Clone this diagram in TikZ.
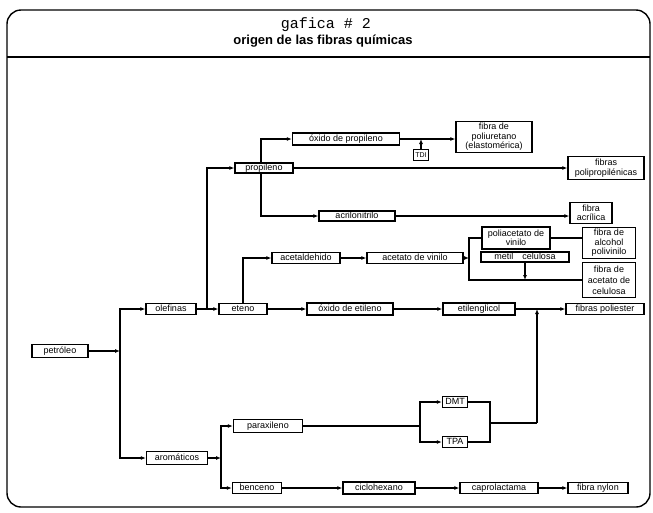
\documentclass[tikz,border=0pt]{standalone}
\usepackage{fontspec}
\setmainfont{Liberation Sans}
\newfontfamily\twfont{Liberation Mono}
\usetikzlibrary{arrows.meta}
\tikzset{
  box/.style={draw, line width=1.3pt, fill=white, inner sep=0pt, align=center,
    font=\fontsize{9}{9.5}\selectfont},
  onebox/.style={box, text height=6.2pt, text depth=0.7pt},
  conn/.style={line width=1.1pt},
  arr/.style={conn, -{Latex[length=5pt,width=4pt]}},
  frame/.style={line width=1.4pt}
}
\begin{document}
\begin{tikzpicture}[x=1pt,y=-1pt]
\useasboundingbox (0,0) rectangle (653,512);
% frame
\draw[frame, rounded corners=14pt] (7,10) rectangle (650,507);
\draw[frame] (7,57) -- (650,57);
\node[font=\twfont\fontsize{15}{15}\selectfont] (t1) at (326,25) {gafica \# 2};
\node[font=\bfseries\fontsize{13}{13}\selectfont] (t2) at (323,41) {origen de las fibras químicas};

% nodes
\node[onebox, minimum width=56pt, minimum height=13pt] (pet) at (60,351) {petróleo};
\node[onebox, minimum width=50pt, minimum height=11pt] (ole) at (171,309) {olefinas};
\node[onebox, minimum width=48pt, minimum height=11pt] (ete) at (243,309) {eteno};
\node[onebox, minimum width=58pt, minimum height=10pt] (pro) at (264,168) {propileno};
\node[onebox, minimum width=107pt, minimum height=12pt] (oxp) at (346,139) {óxido de propileno};
\node[box, minimum width=76pt, minimum height=31pt] (pur) at (494,137) {fibra de\\poliuretano\\(elastomérica)};
\node[onebox, minimum width=15pt, minimum height=11pt, font=\fontsize{7}{8}\selectfont] (tdi) at (421,155) {TDI};
\node[box, minimum width=76pt, minimum height=23pt] (fpp) at (606,168) {fibras\\polipropilénicas};
\node[onebox, minimum width=76pt, minimum height=10pt] (acr) at (357,216) {acrilonitrilo};
\node[box, minimum width=42pt, minimum height=21pt] (fac) at (591,213) {fibra\\acrílica};
\node[onebox, minimum width=68pt, minimum height=11pt] (ald) at (306,258) {acetaldehido};
\node[onebox, minimum width=96pt, minimum height=11pt] (avi) at (415,258) {acetato de vinilo};
\node[box, minimum width=68pt, minimum height=22pt] (pav) at (516,238) {poliacetato de\\vinilo};
\node[onebox, minimum width=88pt, minimum height=10pt] (mec) at (525,257) {metil\quad celulosa};
\node[box, minimum width=53pt, minimum height=31pt] (fal) at (609,243) {fibra de\\alcohol\\polivinilo};
\node[box, minimum width=53pt, minimum height=35pt, font=\fontsize{9}{11}\selectfont] (fcl) at (609,280) {fibra de\\acetato de\\celulosa};
\node[onebox, minimum width=86pt, minimum height=12pt] (oxe) at (350,309) {óxido de etileno};
\node[onebox, minimum width=72pt, minimum height=12pt] (eg) at (479,309) {etilenglicol};
\node[onebox, minimum width=78pt, minimum height=11pt] (fpe) at (605,309) {fibras poliester};
\node[onebox, minimum width=61pt, minimum height=13pt] (aro) at (177,458) {aromáticos};
\node[onebox, minimum width=69pt, minimum height=13pt] (pxy) at (268,426) {paraxileno};
\node[onebox, minimum width=49pt, minimum height=11pt] (ben) at (257,488) {benceno};
\node[onebox, minimum width=25pt, minimum height=11pt] (dmt) at (455,402) {DMT};
\node[onebox, minimum width=25pt, minimum height=11pt] (tpa) at (455,442) {TPA};
\node[onebox, minimum width=72pt, minimum height=12pt] (chx) at (379,488) {ciclohexano};
\node[onebox, minimum width=78pt, minimum height=11pt] (cap) at (499,488) {caprolactama};
\node[onebox, minimum width=60pt, minimum height=11pt] (fny) at (598,488) {fibra nylon};

% junction coordinates
\coordinate (j1) at (120,351);
\coordinate (j2) at (207,309);
\coordinate (j3) at (261,168);
\coordinate (j4) at (469,258);
\coordinate (j4b) at (469,280);
\coordinate (j5) at (221,458);
\coordinate (j6) at (420,426);
\coordinate (j7) at (490,423);
\coordinate (j8) at (537,423);

% connectors
\draw[arr] (pet.east) -- (j1);
\draw[arr] (j1) |- (ole.west);
\draw[arr] (j1) |- (aro.west);
\draw[arr] (ole.east) -- (ete.west);
\draw[arr] (j2) |- (pro.west);
\draw[arr] (j3 |- pro.north) |- (oxp.west);
\draw[arr] (j3 |- pro.south) |- (acr.west);
\draw[arr] (pro.east) -- (pro.east -| fpp.west);
\draw[arr] (oxp.east) -- (oxp.east -| pur.west);
\draw[arr] (tdi.north) -- (tdi.north |- oxp.east);
\draw[arr] (acr.east) -- (acr.east -| fac.west);
\draw[arr] (ete.north) |- (ald.west);
\draw[arr] (ald.east) -- (avi.west);
\draw[arr] (avi.east) -- (j4);
\draw[conn] (pav.west) -| (j4b) -- (j4b -| fcl.west);
\draw[conn] (pav.east) -- (pav.east -| fal.west);
\draw[arr] (mec.south) -- (mec.south |- j4b);
\draw[arr] (ete.east) -- (oxe.west);
\draw[arr] (oxe.east) -- (eg.west);
\draw[arr] (eg.east) -- (fpe.west);
\draw[arr] (aro.east) -- (j5);
\draw[arr] (j5) |- (pxy.west);
\draw[arr] (j5) |- (ben.west);
\draw[conn] (pxy.east) -- (j6);
\draw[arr] (j6) |- (dmt.west);
\draw[arr] (j6) |- (tpa.west);
\draw[conn] (dmt.east) -| (j7);
\draw[conn] (tpa.east) -| (j7);
\draw[conn] (j7) -- (j8);
\draw[arr] (j8) -- (j8 |- eg.east);
\draw[arr] (ben.east) -- (chx.west);
\draw[arr] (chx.east) -- (cap.west);
\draw[arr] (cap.east) -- (fny.west);
\end{tikzpicture}
\end{document}
